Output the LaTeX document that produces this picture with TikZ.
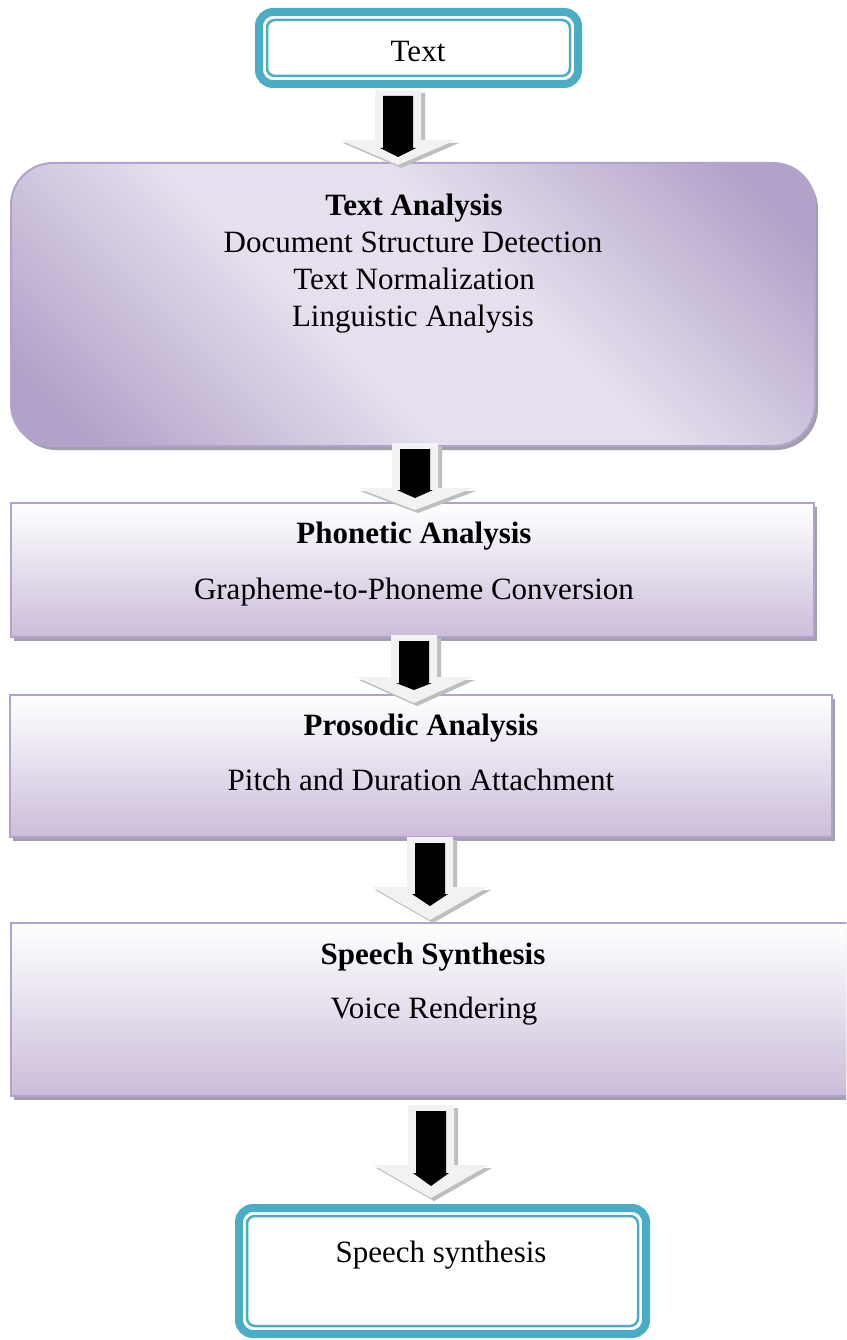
\documentclass[tikz,border=0pt]{standalone}
\usepackage{fontspec}
\setmainfont{Liberation Serif}
\usetikzlibrary{shadows}

\definecolor{tealbox}{HTML}{4BACC6}
\definecolor{lavdark}{HTML}{B2A2C9}
\definecolor{lavlight}{HTML}{E6E0EE}
\definecolor{lavbottom}{HTML}{CBBDDA}
\definecolor{lavmid}{HTML}{E9E4EF}
\definecolor{lavedge}{HTML}{B1A3CB}
\definecolor{boxshadow}{HTML}{A49EAD}
\definecolor{arrowface}{HTML}{F2F2F2}
\definecolor{arrowshade}{HTML}{BEBEBE}

% diagonal sheen of the first stage box
\pgfdeclareverticalshading{lavsheen}{100bp}{%
  color(0bp)=(lavdark); color(20bp)=(lavdark); color(43bp)=(lavlight);
  color(57bp)=(lavlight); color(80bp)=(lavdark); color(100bp)=(lavdark)}

% block arrow: name, centre x, top y, head start y, tip y, inner head start y, inner tip y
\newcommand\flowarrow[7]{%
  \coordinate (#1) at (#2,#3);
  \fill[arrowshade] (#2-23+4,#3+3) -- (#2+23+4,#3+3) -- (#2+23+4,#4+3) -- (#2+58+3,#4+3)
        -- (#2+3,#5+3) -- (#2-58+3,#4+3) -- (#2-23+4,#4+3) -- cycle;
  \fill[arrowface] (#2-23,#3) -- (#2+23,#3) -- (#2+23,#4) -- (#2+58,#4)
        -- (#2,#5) -- (#2-58,#4) -- (#2-23,#4) -- cycle;
  \fill[black] (#2-15,#3+6) -- (#2+15,#3+6) -- (#2+15,#6) -- (#2+18,#6)
        -- (#2,#7) -- (#2-18,#6) -- (#2-15,#6) -- cycle;
}

\begin{document}
\begin{tikzpicture}[x=1pt,y=-1pt,
  termbox/.style={draw=tealbox, line width=8pt, rounded corners=14pt, fill=white,
    inner sep=0pt, outer sep=0pt},
  stagebox/.style={draw=lavedge, line width=2pt, inner sep=0pt,
    general shadow={shadow xshift=3pt, shadow yshift=-4pt, fill=boxshadow}},
  flatbox/.style={stagebox, top color=white, middle color=lavmid, bottom color=lavbottom},
  steptext/.style={anchor=base, inner sep=0pt, font=\fontsize{31}{37}\selectfont},
  headtext/.style={steptext, font=\fontsize{31}{37}\selectfont\bfseries}]

\useasboundingbox (0,0) rectangle (846,1340);
\clip (0,0) rectangle (846,1340);
\fill[white] (0,0) rectangle (846,1340);

% input terminal
\node[termbox, minimum width=319pt, minimum height=72pt] (input) at (418.5,48) {};
\draw[tealbox, line width=2.5pt, rounded corners=8pt]
  ([shift={(8pt,-8pt)}]input.north west) rectangle ([shift={(-8pt,8pt)}]input.south east);
\node[steptext] (inputtext) at (418,62) {Text};

% stage 1: text analysis
\node[stagebox, rounded corners=42pt, shading=lavsheen, shading angle=-45,
  minimum width=804pt, minimum height=283pt] (analysis) at (413,304.5) {};
\node[headtext] (analysishead) at (414,216) {Text Analysis};
\node[steptext] (analysis1) at (413,252) {Document Structure Detection};
\node[steptext] (analysis2) at (414,289) {Text Normalization};
\node[steptext] (analysis3) at (413,326) {Linguistic Analysis};

% stage 2: phonetic analysis
\node[flatbox, minimum width=803pt, minimum height=134pt] (phonetic) at (412.5,570) {};
\node[headtext] (phonetichead) at (414,543) {Phonetic Analysis};
\node[steptext] (phonetic1) at (414,599) {Grapheme-to-Phoneme Conversion};

% stage 3: prosodic analysis
\node[flatbox, minimum width=822pt, minimum height=142pt] (prosodic) at (421,766) {};
\node[headtext] (prosodichead) at (421,735) {Prosodic Analysis};
\node[steptext] (prosodic1) at (421,790) {Pitch and Duration Attachment};

% stage 4: speech synthesis
\node[flatbox, minimum width=858pt, minimum height=173pt] (synthesis) at (440,1009.5) {};
\node[headtext] (synthesishead) at (433,964) {Speech Synthesis};
\node[steptext] (synthesis1) at (434,1018) {Voice Rendering};

% output terminal
\node[termbox, minimum width=407pt, minimum height=126pt] (output) at (442.5,1271) {};
\draw[tealbox, line width=2.5pt, rounded corners=8pt]
  ([shift={(8pt,-8pt)}]output.north west) rectangle ([shift={(-8pt,8pt)}]output.south east);
\node[steptext] (outputtext) at (441,1262) {Speech synthesis};

% flow arrows between the stages
\flowarrow{arrowA}{398}{90}{140}{165}{148}{157}
\flowarrow{arrowB}{415}{443}{488}{510}{490}{498}
\flowarrow{arrowC}{414}{635}{677}{703}{683}{690}
\flowarrow{arrowD}{430}{837}{887}{920}{894}{906}
\flowarrow{arrowE}{431}{1105}{1165}{1198}{1173}{1186}
\end{tikzpicture}
\end{document}
